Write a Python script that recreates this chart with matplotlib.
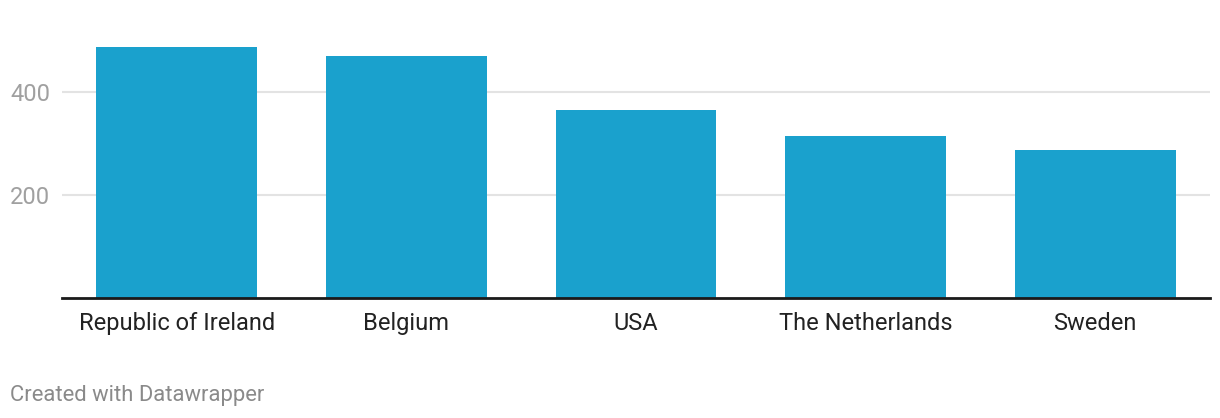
import matplotlib.pyplot as plt

plt.rcParams['font.family'] = ['Roboto', 'DejaVu Sans']

countries = ['Republic of Ireland', 'Belgium', 'USA', 'The Netherlands', 'Sweden']
values = [488, 470, 366, 315, 288]
yticks = [200, 400]

fig = plt.figure(figsize=(12.2, 4.18), dpi=100)
ax = fig.add_axes([62 / 1220, 0.288, 1148 / 1220, 0.6138])

x = range(len(countries))
ax.bar(x, values, width=0.70, color='#1aa1cd', zorder=2)

ax.set_xlim(-0.5, len(countries) - 0.5)
ax.set_ylim(0, 500)
ax.set_yticks(yticks)
ax.set_yticklabels([str(v) for v in yticks])
ax.set_xticks(list(x))
ax.set_xticklabels(countries)

ax.grid(axis='y', color='#e3e3e3', linewidth=1.5, zorder=0)
for s in ['top', 'right', 'left']:
    ax.spines[s].set_visible(False)
ax.spines['bottom'].set_color('#1a1a1a')
ax.spines['bottom'].set_linewidth(2)
ax.spines['bottom'].set_zorder(3)

ax.tick_params(axis='y', length=0, pad=8.5, labelsize=17, labelcolor='#a0a0a0')
ax.tick_params(axis='x', length=0, pad=10.5, labelsize=17, labelcolor='#222222')

fig.text(10 / 1220, 1 - 395 / 418, 'Created with Datawrapper', fontsize=15.8,
         color='#8a8a8a', va='center', ha='left')

fig.savefig('out.png', dpi=100)
